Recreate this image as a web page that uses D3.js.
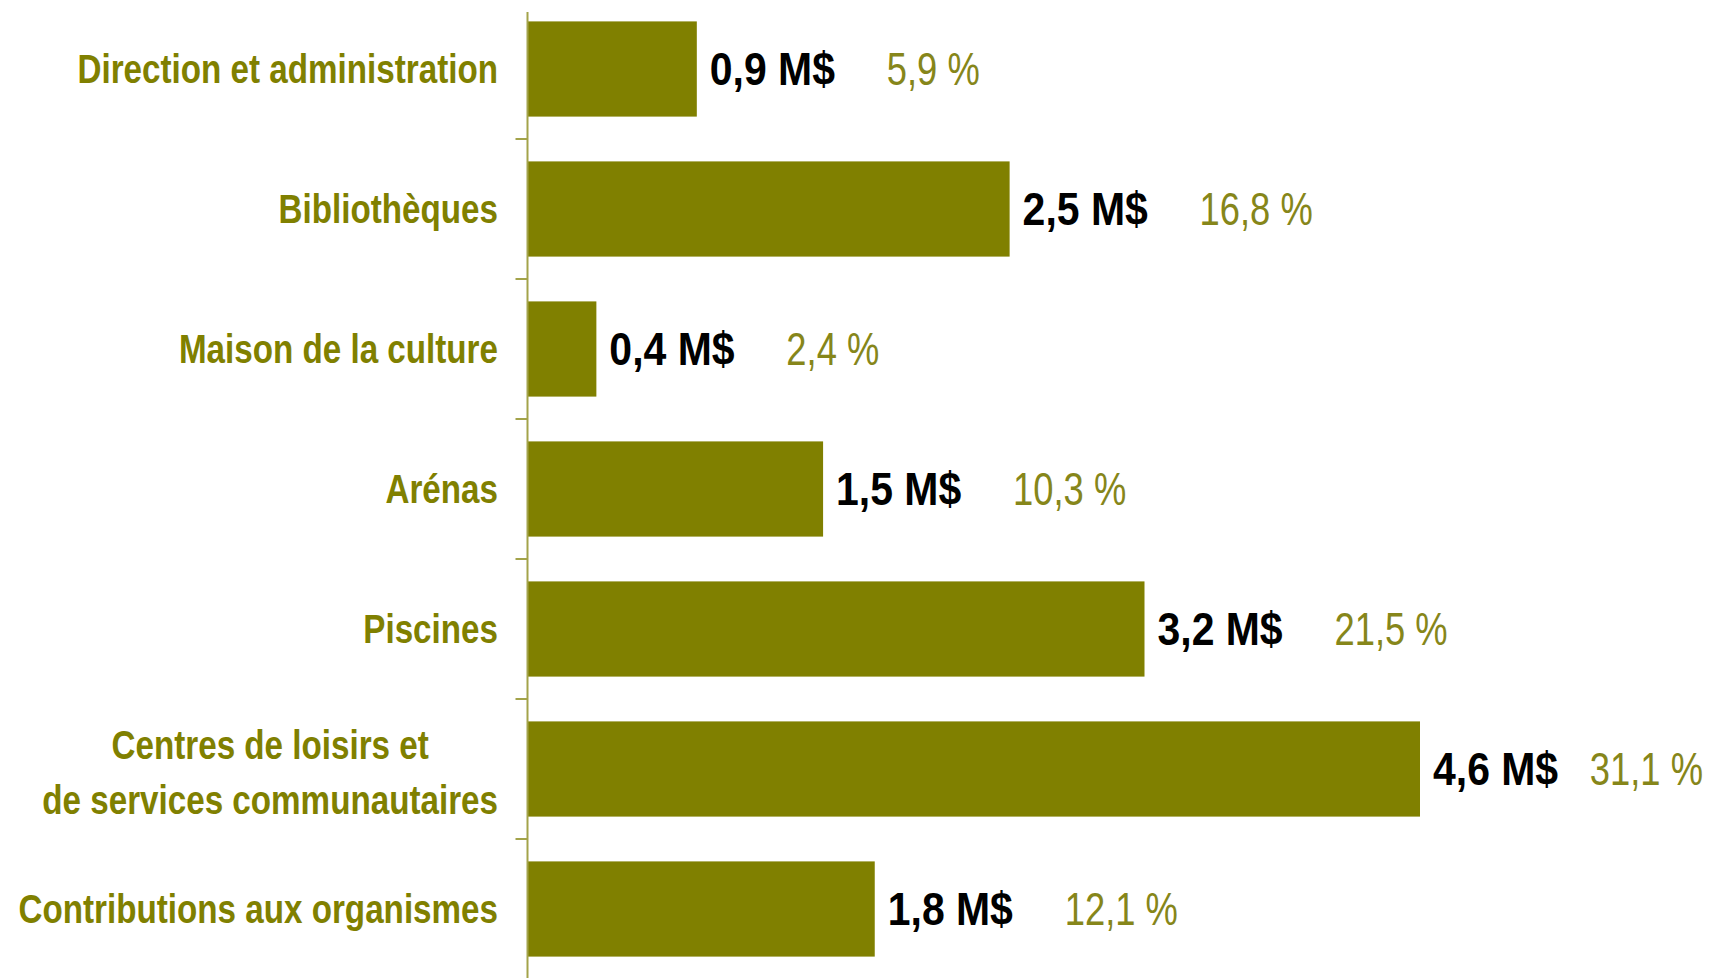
<!DOCTYPE html>
<html>
<head>
<meta charset="utf-8">
<script src="https://cdn.jsdelivr.net/npm/d3@7"></script>
<style>
  body { margin: 0; background: #fff; }
  svg text { font-family: 'Liberation Sans', Arial, sans-serif; }
</style>
</head>
<body>
<div id="graf"></div>
<script>
// I. Données
categories = [
  'Direction et administration',
  'Bibliothèques',
  'Maison de la culture',
  'Arénas',
  'Piscines',
  'Centres de loisirs et\nde services communautaires',
  'Contributions aux organismes'
]
montants = ['0,9 M$', '2,5 M$', '0,4 M$', '1,5 M$', '3,2 M$', '4,6 M$', '1,8 M$']
pourcentages = [5.9, 16.8, 2.4, 10.3, 21.5, 31.1, 12.1]

// II. Configuration
ancho_total = 1709
alto_total = 978
olive = '#808000'
eje_x = 527.5
// compresión horizontal (imitar una fuente "narrow")
f_cat = 0.83
f_monto = 0.89
f_pct = 0.79

svg = d3.select('#graf').append('svg')
        .attr('width', ancho_total)
        .attr('height', alto_total)

data = categories.map((c, i) => ({ cat: c, monto: montants[i], pct: pourcentages[i] }))

y = d3.scaleBand()
      .domain(categories)
      .range([-1, 979])
      .paddingInner(0.32)
      .paddingOuter(0.16)

x = d3.scaleLinear()
      .domain([0, d3.max(pourcentages)])
      .range([0, 892.5])

g = svg.append('g')
       .attr('transform', `translate(${ eje_x }, 0)`)

// barras
g.selectAll('rect')
  .data(data)
  .enter()
  .append('rect')
    .attr('x', 0)
    .attr('y', d => y(d.cat))
    .attr('width', d => x(d.pct))
    .attr('height', y.bandwidth())
    .attr('fill', olive)

// eje vertical y marcas entre categorías
gap = (y.step() - y.bandwidth()) / 2
g.append('line')
  .attr('x1', 0).attr('x2', 0)
  .attr('y1', 12).attr('y2', alto_total)
  .attr('stroke', '#a3a34a')
  .attr('stroke-width', 2)

g.selectAll('.tick')
  .data(categories.slice(1))
  .enter()
  .append('line')
    .attr('class', 'tick')
    .attr('x1', -12).attr('x2', 0)
    .attr('y1', d => y(d) - gap)
    .attr('y2', d => y(d) - gap)
    .attr('stroke', '#a3a34a')
    .attr('stroke-width', 2)

centro = d => y(d.cat) + y.bandwidth() / 2

// montos
g.selectAll('.monto')
  .data(data)
  .enter()
  .append('g')
    .attr('class', 'monto')
    .attr('transform', d => `translate(${ x(d.pct) + 13 }, ${ centro(d) + 15.5 }) scale(${ f_monto }, 1)`)
  .append('text')
    .attr('font-size', '46px')
    .attr('font-weight', 'bold')
    .attr('fill', '#000')
    .text(d => d.monto)

// porcentajes
fmt = v => d3.format('.1f')(v).replace('.', ',') + ' %'
pcts = g.selectAll('.pct')
  .data(data)
  .enter()
  .append('g')
    .attr('class', 'pct')

pcts.append('text')
    .attr('font-size', '46px')
    .attr('fill', '#86861a')
    .text(d => fmt(d.pct))

pcts.each(function(d) {
  w = d3.select(this).select('text').node().getComputedTextLength() * f_pct
  limite = ancho_total - eje_x - 6 - w
  px = Math.min(x(d.pct) + 190, limite)
  d3.select(this).attr('transform', `translate(${ px }, ${ centro(d) + 15.5 }) scale(${ f_pct }, 1)`)
})

// etiquetas de categorías
etiquetas = svg.selectAll('.cat')
  .data(data)
  .enter()
  .append('g')
    .attr('class', 'cat')
    .attr('transform', d => {
      n = d.cat.split('\n').length
      return `translate(498, ${ centro(d) + 14 - (n - 1) * 24 }) scale(${ f_cat }, 1)`
    })
  .append('text')
    .attr('font-size', '40px')
    .attr('font-weight', 'bold')
    .attr('fill', olive)
    .attr('text-anchor', 'middle')

etiquetas.each(function(d) {
  t = d3.select(this)
  d.cat.split('\n').forEach((l, i) => {
    t.append('tspan')
      .attr('y', i * 55)
      .text(l)
  })
  anchos = t.selectAll('tspan').nodes().map(n => n.getComputedTextLength())
  t.selectAll('tspan').attr('x', -d3.max(anchos) / 2)
})
</script>
</body>
</html>
